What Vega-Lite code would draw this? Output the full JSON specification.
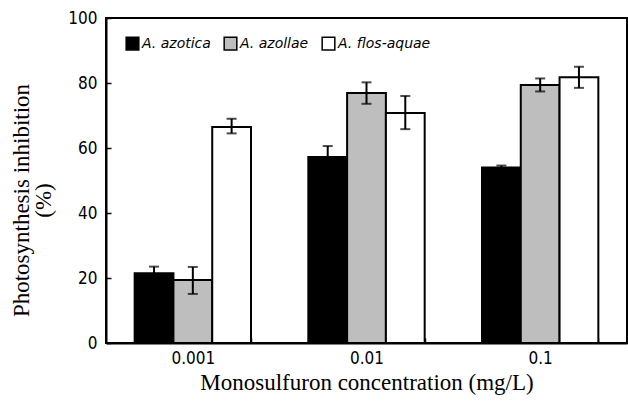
{
  "$schema": "https://vega.github.io/schema/vega-lite/v6.json",
  "width": 521,
  "height": 325,
  "autosize": {"type": "none"},
  "padding": {"left": 106, "top": 18, "right": 1, "bottom": 59},
  "background": "white",
  "config": {
    "view": {"stroke": "black", "strokeWidth": 2},
    "axis": {"grid": false, "domainColor": "black", "domainWidth": 2, "tickColor": "black", "tickWidth": 1.5, "labelColor": "black", "titleColor": "black", "labelFont": "Liberation Sans Narrow, DejaVu Sans Condensed, sans-serif", "labelFontSize": 17, "titleFont": "Liberation Serif, serif", "titleFontWeight": "normal", "titleFontSize": 23}
  },
  "data": {"values": [
    {"conc": "0.001", "species": "A. azotica", "mean": 21.5, "lo": 19.5, "hi": 23.5},
    {"conc": "0.001", "species": "A. azollae", "mean": 19.4, "lo": 15.1, "hi": 23.4},
    {"conc": "0.001", "species": "A. flos-aquae", "mean": 66.5, "lo": 64.5, "hi": 69.0},
    {"conc": "0.01", "species": "A. azotica", "mean": 57.2, "lo": 53.8, "hi": 60.6},
    {"conc": "0.01", "species": "A. azollae", "mean": 76.9, "lo": 73.6, "hi": 80.2},
    {"conc": "0.01", "species": "A. flos-aquae", "mean": 70.8, "lo": 65.8, "hi": 76.0},
    {"conc": "0.1", "species": "A. azotica", "mean": 54.0, "lo": 53.5, "hi": 54.6},
    {"conc": "0.1", "species": "A. azollae", "mean": 79.4, "lo": 77.4, "hi": 81.4},
    {"conc": "0.1", "species": "A. flos-aquae", "mean": 81.8, "lo": 78.5, "hi": 85.0}
  ]},
  "encoding": {
    "x": {"field": "conc", "type": "nominal", "sort": ["0.001", "0.01", "0.1"],
      "scale": {"paddingInner": 0.33, "paddingOuter": 0.165},
      "axis": {"title": "Monosulfuron concentration (mg/L)", "labelAngle": 0, "tickBand": "extent", "tickSize": -5, "labelPadding": 12, "titlePadding": 5}},
    "xOffset": {"field": "species", "type": "nominal", "sort": ["A. azotica", "A. azollae", "A. flos-aquae"], "scale": {"paddingInner": 0, "paddingOuter": 0}}
  },
  "layer": [
    {
      "mark": {"type": "bar", "stroke": "black", "strokeWidth": 2},
      "encoding": {
        "y": {"field": "mean", "type": "quantitative", "scale": {"domain": [0, 100]},
          "axis": {"title": ["Photosynthesis inhibition", "(%)"], "values": [0, 20, 40, 60, 80, 100], "tickSize": -5, "labelPadding": 14, "titlePadding": 12, "titleY": 182, "titleLineHeight": 22}},
        "fill": {"field": "species", "type": "nominal",
          "scale": {"domain": ["A. azotica", "A. azollae", "A. flos-aquae"], "range": ["#000000", "#bebebe", "#ffffff"]},
          "legend": {"title": null, "orient": "none", "legendX": 19, "legendY": 18, "direction": "horizontal", "symbolType": "square", "symbolSize": 160, "symbolStrokeColor": "black", "symbolStrokeWidth": 1.5, "labelFont": "DejaVu Sans", "labelFontStyle": "italic", "labelFontSize": 14, "labelColor": "black", "labelOffset": 2, "columnPadding": 10}}
      }
    },
    {
      "mark": {"type": "rule", "color": "black", "strokeWidth": 2},
      "encoding": {"y": {"field": "lo", "type": "quantitative"}, "y2": {"field": "hi"}}
    },
    {
      "mark": {"type": "tick", "color": "black", "size": 10, "thickness": 2},
      "encoding": {"y": {"field": "lo", "type": "quantitative"}}
    },
    {
      "mark": {"type": "tick", "color": "black", "size": 10, "thickness": 2},
      "encoding": {"y": {"field": "hi", "type": "quantitative"}}
    }
  ]
}
